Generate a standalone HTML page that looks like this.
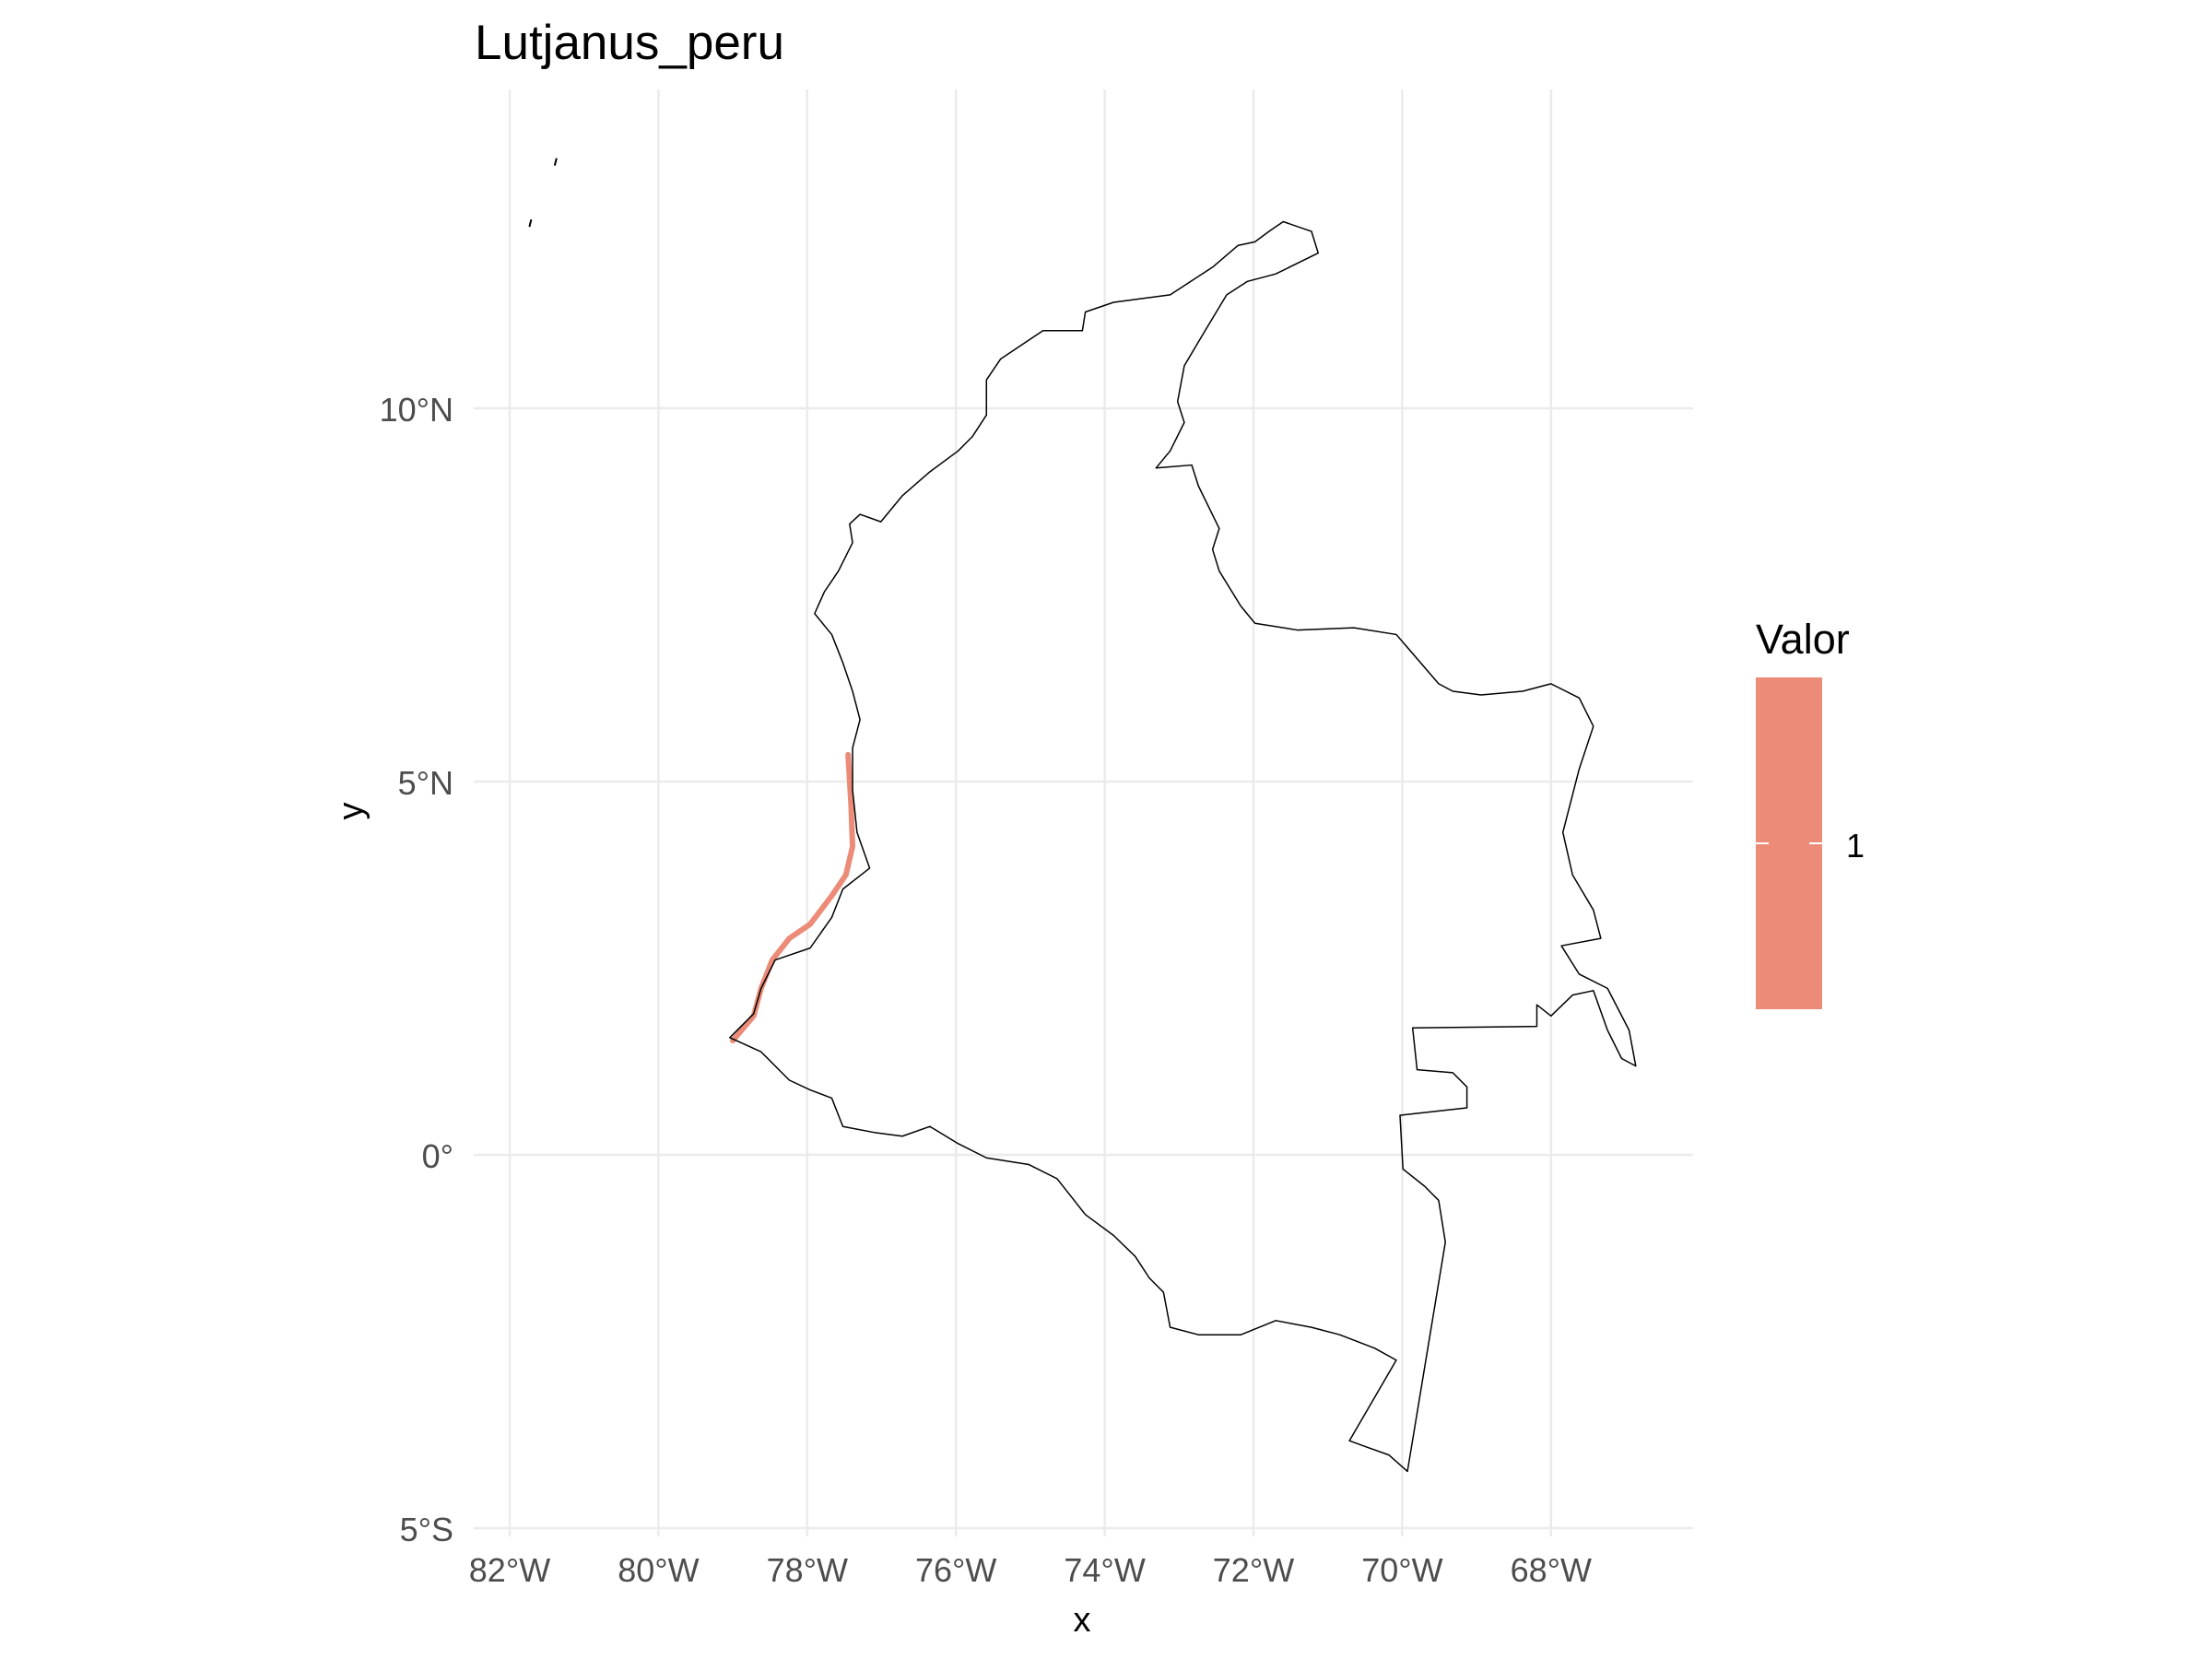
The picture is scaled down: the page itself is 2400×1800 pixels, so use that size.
<!DOCTYPE html>
<html><head><meta charset="utf-8"><style>
html,body{margin:0;padding:0;background:#fff;}
svg{display:block;font-family:"Liberation Sans",sans-serif;}
</style></head><body>
<svg id="chart" width="2400" height="1800" viewBox="0 0 2400 1800">
<rect width="2400" height="1800" fill="#fff"/>
<g id="grid"></g>
<g id="marks"></g>
<g id="axes"></g>
<text x="515" y="64" font-size="53" fill="#000">Lutjanus_peru</text>
<text x="1174" y="1770" font-size="38" text-anchor="middle" fill="#000">x</text>
<text x="0" y="0" font-size="38" text-anchor="middle" fill="#000" transform="translate(393,880) rotate(-90)">y</text>
<g>
<text x="1905" y="709" font-size="45" fill="#000">Valor</text>
<rect x="1905" y="735" width="72" height="360" fill="#ec8b78"/>
<line x1="1905" x2="1919" y1="915" y2="915" stroke="#fff" stroke-width="2"/>
<line x1="1963" x2="1977" y1="915" y2="915" stroke="#fff" stroke-width="2"/>
<text x="2003" y="930" font-size="36" fill="#000">1</text>
</g>
</svg>
<script>
const lonTicks=[-82,-80,-78,-76,-74,-72,-70,-68];
const lonLabels=["82°W","80°W","78°W","76°W","74°W","72°W","70°W","68°W"];
const latTicks=[10,5,0,-5];
const latLabels=["10°N","5°N","0°","5°S"];
const borderLon=[-79.04,-78.62,-78.24,-77.96,-77.67,-77.52,-77.10,-76.72,-76.35,-75.97,-75.59,-75.02,-74.64,-74.26,-73.88,-73.59,-73.40,-73.21,-73.12,-72.74,-72.17,-71.70,-71.22,-70.84,-70.37,-70.08,-70.71,-70.46,-70.18,-69.93,-69.42,-69.51,-69.70,-69.99,-70.03,-69.13,-69.13,-69.32,-69.80,-69.86,-68.19,-68.19,-68.00,-67.71,-67.43,-67.24,-67.05,-66.86,-66.95,-67.24,-67.62,-67.86,-67.33,-67.43,-67.71,-67.84,-67.62,-67.43,-67.62,-68.00,-68.38,-68.94,-69.32,-69.51,-70.08,-70.65,-71.41,-71.98,-72.17,-72.46,-72.55,-72.46,-72.74,-72.83,-73.31,-73.12,-72.93,-73.02,-72.93,-72.65,-72.36,-72.08,-71.70,-71.13,-71.22,-71.60,-71.79,-71.98,-72.21,-72.55,-73.12,-73.88,-74.26,-74.30,-74.83,-75.40,-75.59,-75.59,-75.78,-75.97,-76.35,-76.72,-76.91,-77.01,-77.29,-77.43,-77.39,-77.58,-77.77,-77.90,-77.67,-77.52,-77.39,-77.29,-77.39,-77.39,-77.33,-77.16,-77.52,-77.67,-77.96,-78.43,-78.62,-78.72,-79.04];
const borderLat=[1.57,1.38,1.00,0.87,0.76,0.38,0.30,0.25,0.38,0.15,-0.04,-0.13,-0.32,-0.80,-1.08,-1.36,-1.65,-1.84,-2.31,-2.41,-2.41,-2.22,-2.31,-2.41,-2.59,-2.75,-3.83,-3.92,-4.02,-4.24,-1.17,-0.61,-0.42,-0.19,0.53,0.63,0.91,1.10,1.14,1.70,1.72,2.01,1.86,2.14,2.20,1.67,1.29,1.19,1.67,2.23,2.42,2.80,2.90,3.28,3.75,4.32,5.17,5.74,6.12,6.31,6.21,6.16,6.21,6.31,6.97,7.06,7.03,7.12,7.35,7.82,8.11,8.39,8.96,9.24,9.20,9.43,9.81,10.09,10.57,11.04,11.52,11.70,11.80,12.08,12.37,12.50,12.37,12.23,12.18,11.89,11.52,11.42,11.29,11.04,11.04,10.66,10.38,9.91,9.62,9.43,9.15,8.83,8.60,8.48,8.58,8.45,8.20,7.82,7.54,7.25,6.97,6.59,6.21,5.83,5.45,4.89,4.32,3.84,3.56,3.18,2.77,2.61,2.23,1.89,1.57];
const presenceLon=[-79.00,-78.72,-78.62,-78.47,-78.24,-77.96,-77.67,-77.48,-77.39,-77.41,-77.45];
const presenceLat=[1.53,1.86,2.23,2.61,2.90,3.09,3.47,3.75,4.13,4.68,5.36];
const islandLon=[-81.37,-81.71];
const islandLat=[13.35,12.53];
const NS="http://www.w3.org/2000/svg";
function X(lon){return 553+(lon+82)*80.7;}
function Y(lat){return 1253-lat*81.0;}
function mk(tag,attrs,parent){const e=document.createElementNS(NS,tag);for(const k in attrs)e.setAttribute(k,attrs[k]);parent.appendChild(e);return e;}
const grid=document.getElementById('grid'),marks=document.getElementById('marks'),axes=document.getElementById('axes');
lonTicks.forEach((t,i)=>{
 const l=mk('line',{x1:X(t),x2:X(t),y1:97,y2:1667,stroke:'#ebebeb','stroke-width':2.5},grid);
 
 
 const tx=mk('text',{x:X(t),y:1716,'font-size':36,'text-anchor':'middle',fill:'#4d4d4d'},axes);
 tx.textContent=lonLabels[i];
 
 
});
latTicks.forEach((t,i)=>{
 const l=mk('line',{x1:514,x2:1837,y1:Y(t),y2:Y(t),stroke:'#ebebeb','stroke-width':2.5},grid);
 
 
 const tx=mk('text',{x:492,y:Y(t)+14,'font-size':36,'text-anchor':'end',fill:'#4d4d4d'},axes);
 tx.textContent=latLabels[i];
 
 
});
let pp=presenceLon.map((v,i)=>X(v)+','+Y(presenceLat[i])).join(' ');
const pres=mk('polyline',{points:pp,fill:'none',stroke:'#ec8b78','stroke-width':6,'stroke-linejoin':'round','stroke-linecap':'round'},marks);


let bp=borderLon.map((v,i)=>X(v)+','+Y(borderLat[i])).join(' ');
const bord=mk('polygon',{points:bp,fill:'none',stroke:'#000','stroke-width':1.5,'stroke-linejoin':'round'},marks);


islandLon.forEach((v,i)=>{
 const s=mk('line',{x1:X(v),y1:Y(islandLat[i]),x2:X(v)-2,y2:Y(islandLat[i])+8,stroke:'#000','stroke-width':2},marks);
 
 
});
</script>
</body></html>
